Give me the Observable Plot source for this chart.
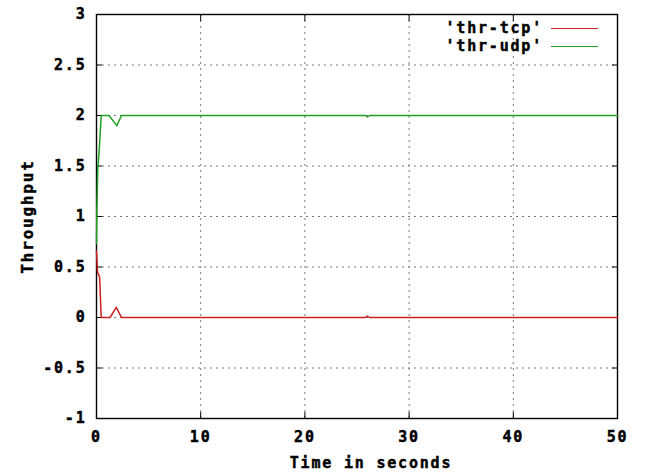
<!DOCTYPE html>
<html>
<head>
<meta charset="utf-8">
<script src="https://cdn.jsdelivr.net/npm/d3@7"></script>
<script src="https://cdn.jsdelivr.net/npm/@observablehq/plot@0.6"></script>
<style>
  html, body { margin: 0; padding: 0; background: #fff; }
  #wrap { position: relative; width: 646px; height: 474px; }
  #wrap svg text { font-weight: bold; stroke: #000; stroke-width: 0.45px; }
  .lg { position: absolute; font: bold 15px "DejaVu Sans Mono", monospace; letter-spacing: 1.8px; color: #000; -webkit-text-stroke: 0.45px #000; }
  .lg span.t { position: absolute; right: 0; white-space: pre; line-height: 18px; }
  .lg span.l { position: absolute; height: 0; border-top: 1.4px solid; }
</style>
</head>
<body>
<div id="wrap"></div>
<script>
// Series: 'thr-tcp'
const tcpTime = [0, 0.1, 0.3, 0.45, 1.3, 1.9, 2.4, 25.8, 26.0, 26.2, 50];
const tcpValue = [0.66, 0.45, 0.4, 0, 0, 0.1, 0, 0, 0.015, 0, 0];
// Series: 'thr-udp'
const udpTime = [0, 0.04, 0.12, 0.28, 0.45, 1.2, 1.95, 2.4, 25.8, 26.0, 26.2, 50];
const udpValue = [0.73, 1.08, 1.46, 1.69, 2.0, 2.0, 1.9, 2.0, 2.0, 1.985, 2.0, 2.0];
const seriesNames = ["'thr-tcp'", "'thr-udp'"];
const seriesColors = ["#cc2020", "#22a022"];
// Axes
const xTicks = [0, 10, 20, 30, 40, 50];
const xTickLabels = ["0", "10", "20", "30", "40", "50"];
const yTicks = [-1, -0.5, 0, 0.5, 1, 1.5, 2, 2.5, 3];
const yTickLabels = ["-1", "-0.5", "0", "0.5", "1", "1.5", "2", "2.5", "3"];
const xLabel = "Time in seconds";
const yLabel = "Throughput";

const data = [
  ...tcpTime.map((t, i) => ({t, v: tcpValue[i], s: seriesNames[0]})),
  ...udpTime.map((t, i) => ({t, v: udpValue[i], s: seriesNames[1]}))
];
const xInner = xTicks.slice(1, -1);
const yInner = yTicks.slice(1, -1);
const fmtX = d => xTickLabels[xTicks.indexOf(d)];
const fmtY = d => yTickLabels[yTicks.indexOf(d)];

const chart = Plot.plot({
  width: 646,
  height: 474,
  marginLeft: 96,
  marginRight: 29,
  marginTop: 14,
  marginBottom: 56,
  style: {fontFamily: "DejaVu Sans Mono", fontWeight: "bold", fontSize: "15px", letterSpacing: "1.8px", color: "#000", background: "#fff"},
  x: {domain: [0, 50]},
  y: {domain: [-1, 3]},
  color: {domain: seriesNames, range: seriesColors},
  marks: [
    Plot.gridX(xInner, {stroke: "#777", strokeOpacity: 1, strokeDasharray: "2,4", strokeWidth: 1}),
    Plot.gridY(yInner, {stroke: "#777", strokeOpacity: 1, strokeDasharray: "2,4", strokeWidth: 1}),
    Plot.axisX(xTicks, {anchor: "bottom", tickSize: 0, tickPadding: 13, tickFormat: fmtX, label: null, fontWeight: "bold"}),
    Plot.axisY(yTicks, {anchor: "left", tickSize: 0, tickPadding: 10, tickFormat: fmtY, label: null, fontWeight: "bold"}),
    Plot.axisX(xTicks, {anchor: "bottom", tickSize: -6, fill: "none", label: null, stroke: "#000"}),
    Plot.axisX(xTicks, {anchor: "top", tickSize: -6, fill: "none", label: null, stroke: "#000"}),
    Plot.axisY(yTicks, {anchor: "left", tickSize: -6, fill: "none", label: null, stroke: "#000"}),
    Plot.axisY(yTicks, {anchor: "right", tickSize: -6, fill: "none", label: null, stroke: "#000"}),
    Plot.frame({stroke: "#000", strokeWidth: 1.4}),
    Plot.line(data, {x: "t", y: "v", z: "s", stroke: "s", strokeWidth: 1.5}),
    Plot.text([xLabel], {frameAnchor: "bottom", dy: 49, dx: 14, fill: "#000", fontWeight: "bold"}),
    Plot.text([yLabel], {frameAnchor: "left", textAnchor: "middle", rotate: -90, dx: -69, fill: "#000", fontWeight: "bold", fontSize: 16})
  ]
});
const wrap = document.getElementById("wrap");
wrap.appendChild(chart);

// Legend (inside the plot, top right, gnuplot style)
seriesNames.forEach((name, i) => {
  const row = document.createElement("div");
  row.className = "lg";
  row.style.left = "0px";
  row.style.top = (19 + i * 18) + "px";
  row.style.width = "543px";
  const t = document.createElement("span");
  t.className = "t";
  t.textContent = name;
  row.appendChild(t);
  const l = document.createElement("span");
  l.className = "l";
  l.style.left = "551px";
  l.style.width = "47px";
  l.style.top = "9px";
  l.style.borderColor = seriesColors[i];
  row.appendChild(l);
  wrap.appendChild(row);
});
</script>
</body>
</html>
